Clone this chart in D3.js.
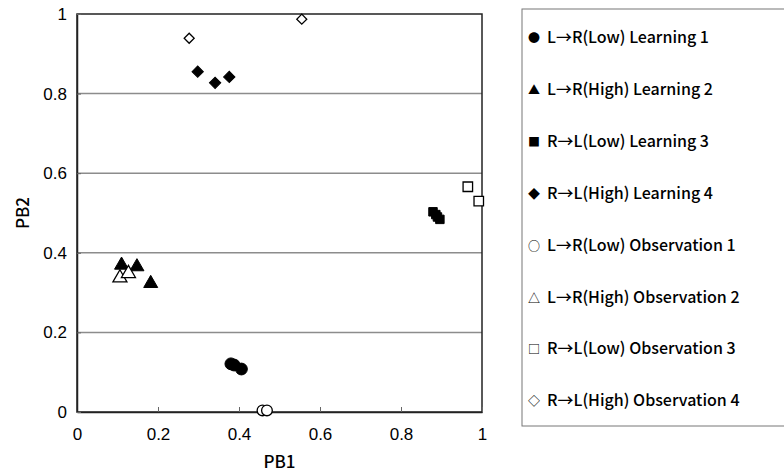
<!DOCTYPE html>
<html>
<head>
<meta charset="utf-8">
<script src="https://cdn.jsdelivr.net/npm/d3@7"></script>
<style>
  body { margin: 0; background: #fff; }
  svg { display: block; font-family: "Noto Sans CJK JP", "Liberation Sans", sans-serif; font-weight: 500; }
</style>
</head>
<body>
<script>
// series (PB1, PB2)
var learn1 = [[0.380, 0.121], [0.388, 0.118], [0.406, 0.108]];
var learn2 = [[0.110, 0.369], [0.148, 0.365], [0.182, 0.323]];
var learn3 = [[0.879, 0.503], [0.886, 0.496], [0.890, 0.490], [0.896, 0.484]];
var learn4 = [[0.298, 0.855], [0.341, 0.827], [0.376, 0.842]];
var obs1 = [[0.458, 0.004], [0.469, 0.004]];
var obs2 = [[0.106, 0.337], [0.127, 0.348]];
var obs3 = [[0.965, 0.566], [0.992, 0.530]];
var obs4 = [[0.277, 0.939], [0.555, 0.987]];

var legendSymbols = ["●", "▲", "■", "◆", "○", "△", "□", "◇"];
var legendLabels = [
    "L→R(Low) Learning 1",
    "L→R(High) Learning 2",
    "R→L(Low) Learning 3",
    "R→L(High) Learning 4",
    "L→R(Low) Observation 1",
    "L→R(High) Observation 2",
    "R→L(Low) Observation 3",
    "R→L(High) Observation 4"
];
var tickValues = [0, 0.2, 0.4, 0.6, 0.8, 1];

var w = 784, h = 474;
var plotLeft = 77, plotRight = 482, plotTop = 14, plotBottom = 412;

var svg = d3.select("body").append("svg")
    .attr("width", w)
    .attr("height", h);

var xScale = d3.scaleLinear().domain([0, 1]).range([plotLeft, plotRight]);
var yScale = d3.scaleLinear().domain([0, 1]).range([plotBottom, plotTop]);

// gridlines
svg.append("g")
    .selectAll("line")
    .data([0.2, 0.4, 0.6, 0.8])
    .enter()
    .append("line")
    .attr("x1", plotLeft).attr("x2", plotRight)
    .attr("y1", function (d) { return yScale(d); })
    .attr("y2", function (d) { return yScale(d); })
    .attr("stroke", "#8c8c8c")
    .attr("stroke-width", 1.5);

// frame
svg.append("rect")
    .attr("x", plotLeft).attr("y", plotTop)
    .attr("width", plotRight - plotLeft).attr("height", plotBottom - plotTop)
    .attr("fill", "none")
    .attr("stroke", "#222")
    .attr("stroke-width", 1.5);

// X axis
var xAxis = d3.axisBottom(xScale)
    .tickValues(tickValues)
    .tickSizeInner(-5)
    .tickSizeOuter(0)
    .tickPadding(16)
    .tickFormat(d3.format("~g"));
var gx = svg.append("g")
    .attr("transform", "translate(0," + plotBottom + ")")
    .call(xAxis);
gx.select(".domain").attr("stroke", "#222").attr("stroke-width", 1.5);
gx.selectAll(".tick line").attr("stroke", "#666");
gx.selectAll("text").attr("font-size", 17).attr("fill", "#000");

// Y axis
var yAxis = d3.axisLeft(yScale)
    .tickValues(tickValues)
    .tickSizeInner(-4)
    .tickSizeOuter(0)
    .tickPadding(10)
    .tickFormat(d3.format("~g"));
var gy = svg.append("g")
    .attr("transform", "translate(" + plotLeft + ",0)")
    .call(yAxis);
gy.select(".domain").attr("stroke", "#222").attr("stroke-width", 1.5);
gy.selectAll(".tick line").attr("stroke", "#666");
gy.selectAll("text").attr("font-size", 17).attr("fill", "#000");

// axis titles
svg.append("text")
    .attr("x", (plotLeft + plotRight) / 2).attr("y", 468)
    .attr("text-anchor", "middle")
    .attr("font-size", 17)
    .text("PB1");
svg.append("text")
    .attr("transform", "translate(29," + ((plotTop + plotBottom) / 2) + ") rotate(-90)")
    .attr("text-anchor", "middle")
    .attr("font-size", 17)
    .text("PB2");

// markers
var series = [
    { data: learn1, type: d3.symbolCircle, size: 110, filled: true, rot: 0 },
    { data: learn2, type: d3.symbolTriangle, size: 85, filled: true, rot: 0 },
    { data: learn3, type: d3.symbolSquare, size: 72, filled: true, rot: 0 },
    { data: learn4, type: d3.symbolSquare, size: 64, filled: true, rot: 45 },
    { data: obs1, type: d3.symbolCircle, size: 90, filled: false, rot: 0 },
    { data: obs2, type: d3.symbolTriangle, size: 85, filled: false, rot: 0 },
    { data: obs3, type: d3.symbolSquare, size: 90, filled: false, rot: 0 },
    { data: obs4, type: d3.symbolSquare, size: 50, filled: false, rot: 45 }
];

series.forEach(function (s) {
    svg.append("g")
        .selectAll("path")
        .data(s.data)
        .enter()
        .append("path")
        .attr("d", d3.symbol().type(s.type).size(s.size))
        .attr("transform", function (d) {
            return "translate(" + xScale(d[0]) + "," + yScale(d[1]) + ") rotate(" + s.rot + ")";
        })
        .attr("fill", s.filled ? "#000" : "#fff")
        .attr("stroke", "#000")
        .attr("stroke-width", s.filled ? 1 : 1.3);
});

// legend
svg.append("rect")
    .attr("x", 522).attr("y", 9)
    .attr("width", 300).attr("height", 417)
    .attr("fill", "#fff")
    .attr("stroke", "#777")
    .attr("stroke-width", 1);

var items = svg.append("g")
    .selectAll("text")
    .data(legendLabels)
    .enter()
    .append("text")
    .attr("x", 528)
    .attr("y", function (d, i) { return 43 + i * 51.9; })
    .attr("font-size", 16);
items.append("tspan")
    .attr("font-size", 12)
    .text(function (d, i) { return legendSymbols[i]; });
items.append("tspan")
    .attr("x", 547)
    .text(function (d) { return d; });
</script>
</body>
</html>
